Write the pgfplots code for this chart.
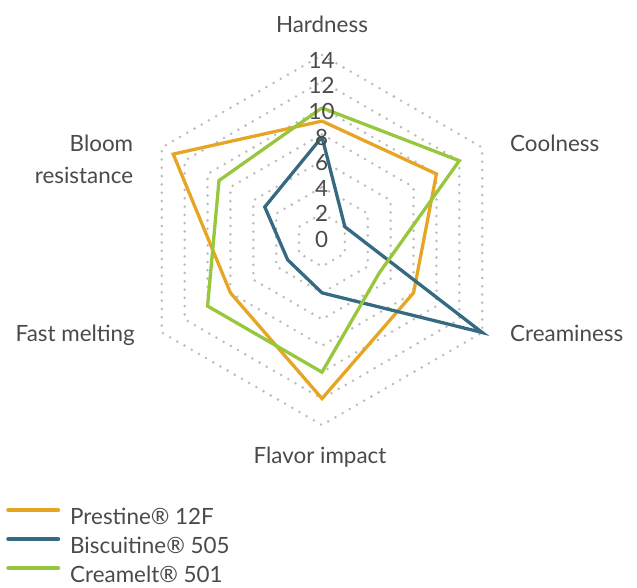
\documentclass[border=0pt]{standalone}
\usepackage{pgfplots}
\pgfplotsset{compat=1.18}
\usepgfplotslibrary{polar}
\usepackage{fontspec}
\setmainfont{Lato}
\definecolor{cOr}{HTML}{E6A623}
\definecolor{cBl}{HTML}{356A82}
\definecolor{cGr}{HTML}{97C73C}
\definecolor{txt}{HTML}{4A4A4A}
\definecolor{grd}{HTML}{BBBBBB}
\begin{document}
\begin{tikzpicture}[font=\fontsize{22.4}{26}\selectfont]
\begin{polaraxis}[
  scale only axis, width=370pt, height=370pt,
  ymin=0, ymax=14,
  xtick=\empty, ytick=\empty,
  axis line style={draw=none},
  grid=none,
  clip=false,
  legend style={at={(axis description cs:-0.354,-0.2216)}, anchor=north west,
    draw=none, fill=none, inner sep=0pt, row sep=7pt,
    font=\fontsize{22.4}{26}\selectfont, text=txt,
    nodes={inner sep=0pt, text height=17pt, text depth=5pt},
    /tikz/every odd column/.append style={column sep=10pt}},
  legend cell align=left,
  legend image code/.code={\draw[line width=4pt, line cap=round] (0pt,8pt) -- (50pt,8pt);},
  grid ring/.style={grd, line width=2.8pt, line cap=round, dash pattern=on 0pt off 8.3pt, forget plot},
  series/.style={line width=3.3pt, line join=miter, mark=none},
]
\pgfplotsinvokeforeach{2,4,6,8,10,12,14}{
  \addplot[grid ring] coordinates {(90,#1) (30,#1) (-30,#1) (-90,#1) (-150,#1) (150,#1) (90,#1)};
}
% angles: Hardness 90, Coolness 30, Creaminess -30, Flavor impact -90, Fast melting -150, Bloom resistance 150
\addplot[series, cOr] coordinates {(90,9) (30,10) (-30,8) (-90,12) (-150,8) (150,13) (90,9)};
\addlegendentry{Prestine® 12F}
\addplot[series, cBl] coordinates {(90,7.8) (30,2) (-30,14) (-90,4) (-150,3) (150,5) (90,7.8)};
\addlegendentry{Biscuitine® 505}
\addplot[series, cGr] coordinates {(90,10) (30,12) (-30,5) (-90,10) (-150,10) (150,9) (90,10)};
\addlegendentry{Creamelt® 501}
\coordinate (C) at (axis cs:0,0);
\end{polaraxis}
\begin{scope}[text=txt]
\foreach \v in {0,2,...,14} {
  \path (C) ++(-0.5pt,-7.5pt+\v*12.8pt) node[anchor=base, inner sep=0pt] {\v};
}
\path (C) ++(0pt,207.7pt) node[anchor=base, inner sep=0pt] {Hardness};
\path (C) ++(188pt,88.3pt) node[anchor=base west, inner sep=0pt] {Coolness};
\path (C) ++(188pt,-101.7pt) node[anchor=base west, inner sep=0pt] {Creaminess};
\path (C) ++(-2pt,-223pt) node[anchor=base, inner sep=0pt] {Flavor impact};
\path (C) ++(-187pt,-101.7pt) node[anchor=base east, inner sep=0pt] {Fast melting};
\path (C) ++(-188.7pt,88.3pt) node[anchor=base east, inner sep=0pt] {Bloom};
\path (C) ++(-188.7pt,56.7pt) node[anchor=base east, inner sep=0pt] {resistance};
\end{scope}
\path (C) ++(-322pt,240pt) rectangle ++(637pt,-587pt);
\end{tikzpicture}
\end{document}
